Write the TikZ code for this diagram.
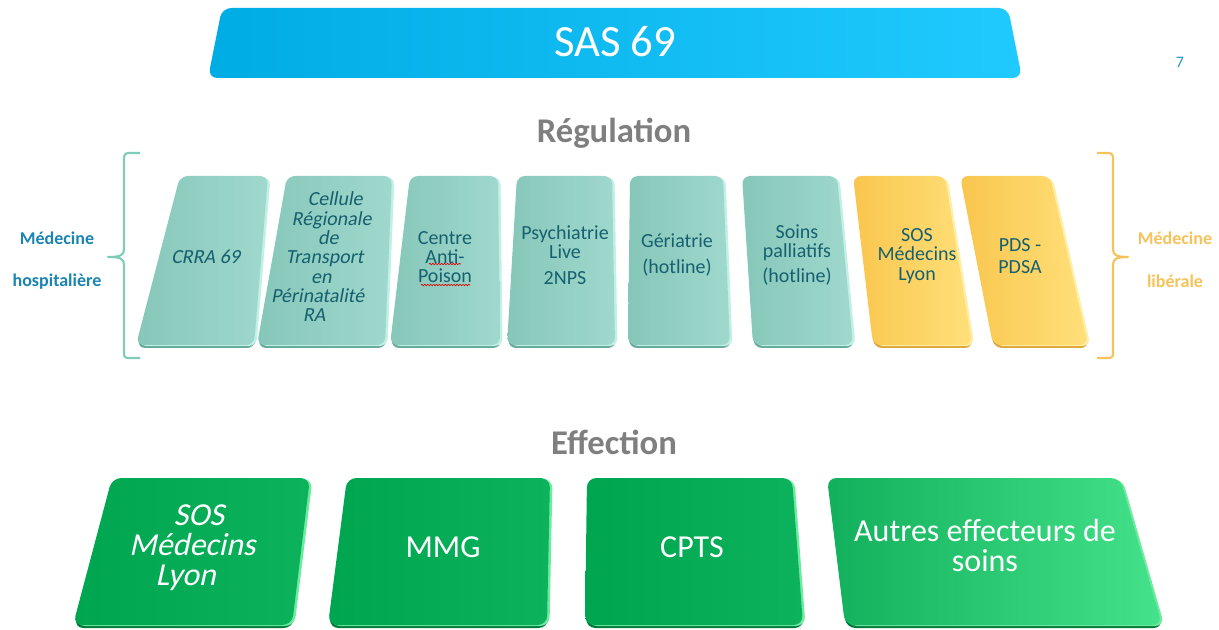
\documentclass[tikz,border=0pt]{standalone}
\usepackage{fontspec}
\setmainfont{Carlito}
\usetikzlibrary{decorations.pathmorphing}
\definecolor{sasL}{RGB}{0,172,228}
\definecolor{sasR}{RGB}{32,202,255}
\definecolor{titlegray}{RGB}{127,127,127}
\definecolor{hospblue}{RGB}{26,132,178}
\definecolor{libgold}{RGB}{245,195,90}
\definecolor{bracetealc}{RGB}{128,204,186}
\definecolor{txtteal}{RGB}{22,96,112}
\definecolor{tealL}{RGB}{134,199,185}
\definecolor{tealR}{RGB}{160,216,205}
\definecolor{tealHi}{RGB}{192,240,230}
\definecolor{tealSh}{RGB}{104,170,156}
\definecolor{goldL}{RGB}{249,198,78}
\definecolor{goldR}{RGB}{255,224,122}
\definecolor{goldHi}{RGB}{255,238,165}
\definecolor{goldSh}{RGB}{222,168,60}
\definecolor{greenL}{RGB}{0,165,80}
\definecolor{greenR}{RGB}{12,178,92}
\definecolor{greenL4}{RGB}{18,176,92}
\definecolor{greenR4}{RGB}{68,226,138}
\definecolor{greenHi}{RGB}{110,235,160}
\definecolor{greenSh}{RGB}{0,120,58}
\definecolor{pagenum}{RGB}{30,150,200}
\newcommand\quadbox[5]{%
  \fill[#1 shadow] #2 -- #3 -- #4 -- #5 -- cycle;
  \fill[#1 hi] #2 -- #3 -- #4 -- #5 -- cycle;
  \shade[#1 body] #2 -- #3 -- #4 -- #5 -- cycle;}
\begin{document}
\begin{tikzpicture}[x=0.75pt,y=-0.75pt,
  teal shadow/.style={fill=tealSh, rounded corners=6pt, shift={(1,3)}},
  teal hi/.style={fill=tealHi, rounded corners=6pt, shift={(2.5,1)}},
  teal body/.style={left color=tealL, right color=tealR, rounded corners=6pt},
  gold shadow/.style={fill=goldSh, rounded corners=6pt, shift={(1,3)}},
  gold hi/.style={fill=goldHi, rounded corners=6pt, shift={(2.5,1)}},
  gold body/.style={left color=goldL, right color=goldR, rounded corners=6pt},
  green shadow/.style={fill=greenSh, rounded corners=7pt, shift={(1,3)}},
  green hi/.style={fill=greenHi, rounded corners=7pt, shift={(2.5,1)}},
  green body/.style={left color=greenL, right color=greenR, rounded corners=7pt},
  green4 shadow/.style={green shadow},
  green4 hi/.style={green hi},
  green4 body/.style={left color=greenL4, right color=greenR4, rounded corners=7pt},
  regtxt/.style={text=txtteal, font=\fontsize{15}{14.5}\selectfont, align=center, inner sep=0pt},
  efftxt/.style={text=white, font=\fontsize{24}{22.5}\selectfont, align=center, inner sep=0pt},
  sectitle/.style={text=titlegray, font=\fontsize{26}{30}\selectfont\bfseries, inner sep=0pt},
  sidelab/.style={font=\fontsize{13.5}{16}\selectfont\bfseries, inner sep=0pt},
  spell/.style={draw=red!85!black, line width=0.5pt, decorate, decoration={snake, amplitude=0.5pt, segment length=2.2pt}}
]
\useasboundingbox (0,0) rectangle (1219,630);
\fill[white] (0,0) rectangle (1219,630);

% ---- banner
\shade[left color=sasL, right color=sasR, rounded corners=7pt]
  (222,8) -- (1008,8) -- (1022,78) -- (208,78) -- cycle;
\node[text=white, font=\fontsize{33.5}{36}\selectfont, inner sep=0pt] (sas) at (615,42) {SAS 69};
\node[text=pagenum, font=\fontsize{12}{14}\selectfont, inner sep=0pt] (page) at (1180,62) {7};

% ---- titles
\node[sectitle] (reg) at (614,133) {Régulation};
\node[sectitle] (eff) at (614,442) {Effection};

% ---- braces
\draw[bracetealc, line width=1.6pt, line join=round]
  (140,153) -- (129,153) .. controls (125,153) and (124,155) .. (124,159)
  -- (124,249) .. controls (124,255) and (121,257) .. (108,257)
  .. controls (121,257) and (124,259) .. (124,265)
  -- (124,353) .. controls (124,357) and (125,358) .. (129,358) -- (140,358);
\draw[libgold, line width=1.6pt, line join=round]
  (1097,153) -- (1108,153) .. controls (1112,153) and (1113,155) .. (1113,159)
  -- (1113,249) .. controls (1113,255) and (1116,257) .. (1128,257)
  .. controls (1116,257) and (1113,259) .. (1113,265)
  -- (1113,353) .. controls (1113,357) and (1112,358) .. (1108,358) -- (1097,358);

\node[sidelab, text=hospblue] (hosp1) at (57,238) {Médecine};
\node[sidelab, text=hospblue] (hosp2) at (57,282) {hospitalière};
\node[sidelab, text=libgold] (lib1) at (1175,238) {Médecine};
\node[sidelab, text=libgold] (lib2) at (1175,281) {libérale};

% ---- regulation boxes
\quadbox{teal}{(180,176)}{(268,176)}{(254,345)}{(136,345)}
\quadbox{teal}{(287,176)}{(392,176)}{(385,345)}{(257,345)}
\quadbox{teal}{(410,176)}{(498,176)}{(500,345)}{(390,345)}
\quadbox{teal}{(517,176)}{(612,176)}{(615,345)}{(507,345)}
\quadbox{teal}{(630,176)}{(723,176)}{(730,345)}{(628,345)}
\quadbox{teal}{(742,176)}{(837,176)}{(853,345)}{(753,345)}
\quadbox{gold}{(853,176)}{(945,176)}{(972,345)}{(873,345)}
\quadbox{gold}{(960,176)}{(1050,176)}{(1088,345)}{(993,345)}

\begin{scope}[shift={(207,257)}]
  \node[regtxt, transform shape, xslant=0.2] (r1) at (0,0) {CRRA 69};
\end{scope}
\begin{scope}[shift={(326,257)}]
  \node[regtxt, transform shape, xslant=0.18] (r2) at (0,0)
    {Cellule\\Régionale\\de\\Transport\\en\\Périnatalité\\RA};
\end{scope}
\node[regtxt] (r3) at (445,257) {Centre\\Anti-\\Poison};
\node[regtxt] (r4) at (565,255) {Psychiatrie\\Live\\[4.5pt]2NPS};
\node[regtxt] (r5) at (677,255) {Gériatrie\\[4.5pt](hotline)};
\node[regtxt] (r6) at (797,255) {Soins\\palliatifs\\[4.5pt](hotline)};
\node[regtxt] (r7) at (917,256) {SOS\\Médecins\\Lyon};
\node[regtxt] (r8) at (1020,256) {PDS -\\[1.5pt]PDSA};
% spell-check marks
\coordinate (sq1a) at (429,264); \coordinate (sq1b) at (461,264);
\coordinate (sq2a) at (421,285); \coordinate (sq2b) at (470,285);
\draw[spell] (sq1a) -- (sq1b);
\draw[spell] (sq2a) -- (sq2b);

% ---- effection boxes
\quadbox{green}{(112,478)}{(310,478)}{(292,625)}{(73,625)}
\quadbox{green}{(347,478)}{(550,478)}{(547,625)}{(328,625)}
\quadbox{green}{(587,478)}{(792,478)}{(803,625)}{(585,625)}
\quadbox{green4}{(827,478)}{(1120,478)}{(1162,625)}{(845,625)}

\begin{scope}[shift={(194,548)}]
  \node[efftxt, transform shape, xslant=0.22] (e1) at (0,0) {SOS\\Médecins\\Lyon};
\end{scope}
\node[efftxt] (e2) at (443,547) {MMG};
\node[efftxt] (e3) at (692,547) {CPTS};
\node[efftxt] (e4) at (985,546) {Autres effecteurs de\\soins};
\end{tikzpicture}
\end{document}
